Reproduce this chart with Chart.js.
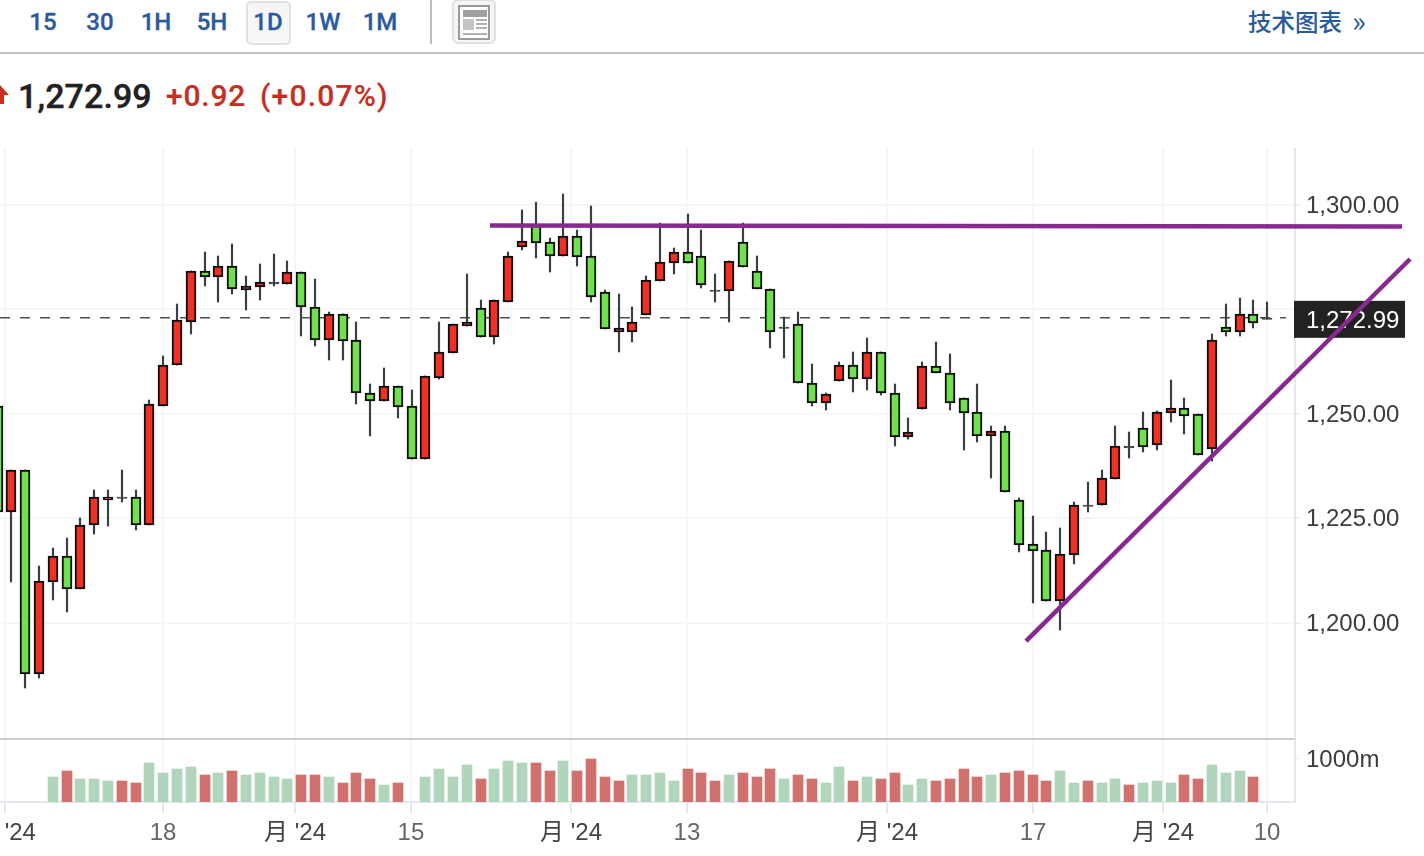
<!DOCTYPE html>
<html lang="zh">
<head>
<meta charset="utf-8">
<title>Candlestick</title>
<script src="https://cdn.jsdelivr.net/npm/chart.js@4/dist/chart.umd.min.js"></script>
<style>
html,body{margin:0;padding:0;background:#fff;width:1424px;height:856px;overflow:hidden;}
body{position:relative;font-family:"Roboto","Liberation Sans",sans-serif;}
.abs{position:absolute;white-space:nowrap;}
.tab{top:7px;height:30px;line-height:30px;font-size:24px;font-weight:500;color:#2a5a9e;transform:translateX(-50%);-webkit-text-stroke:.3px #2a5a9e;}
#chartBox{position:absolute;left:0;top:148px;width:1424px;height:708px;}
</style>
</head>
<body>
<div class="abs" style="left:246px;top:1px;width:41px;height:40px;background:#f6f6f6;border:2px solid #e0e0e0;border-radius:5px;"></div>
<div class="abs tab" style="left:43px">15</div>
<div class="abs tab" style="left:100px">30</div>
<div class="abs tab" style="left:156px">1H</div>
<div class="abs tab" style="left:212px">5H</div>
<div class="abs tab" style="left:268px">1D</div>
<div class="abs tab" style="left:323px">1W</div>
<div class="abs tab" style="left:380px">1M</div>
<div class="abs" style="left:430px;top:0;width:2px;height:44px;background:#bdbdbd;"></div>
<svg class="abs" style="left:452px;top:0" width="45" height="45">
  <rect x="1" y="0" width="42" height="43" rx="5" fill="#f6f6f6" stroke="#e0e0e0" stroke-width="2"/>
  <rect x="7" y="6" width="30" height="33" fill="#fff" stroke="#9a9a9a" stroke-width="2"/>
  <rect x="11" y="10" width="24" height="7" fill="#a0a0a0"/>
  <rect x="11" y="19" width="11" height="11" fill="#c4c4c4"/>
  <rect x="24" y="19" width="11" height="2" fill="#b0b0b0"/>
  <rect x="24" y="23" width="11" height="2" fill="#b0b0b0"/>
  <rect x="24" y="27" width="11" height="2" fill="#b0b0b0"/>
  <rect x="11" y="33" width="24" height="2" fill="#b0b0b0"/>
</svg>
<div class="abs" style="left:1248px;top:5px;height:32px;line-height:32px;font-family:'Noto Sans CJK SC';font-size:23.5px;font-weight:500;color:#2a5a9e;">技术图表</div>
<div class="abs" style="left:1352px;top:4px;height:32px;line-height:30px;font-family:'Noto Sans CJK SC';font-size:29px;color:#2a5a9e;">»</div>
<div class="abs" style="left:0;top:52px;width:1424px;height:2px;background:#c2c2c2;"></div>
<svg class="abs" style="left:0;top:84px" width="10" height="22"><polygon points="0,1 9,11 4,11 4,20 0,20" fill="#c93020"/></svg>
<div class="abs" style="left:18px;top:76px;height:40px;line-height:40px;font-size:34px;font-weight:500;color:#222;-webkit-text-stroke:.4px #222;letter-spacing:.1px;">1,272.99</div>
<div class="abs" style="left:166px;top:76px;height:40px;line-height:40px;font-size:30px;font-weight:500;color:#c4301f;letter-spacing:.8px;-webkit-text-stroke:.2px #c4301f;">+0.92</div>
<div class="abs" style="left:260px;top:76px;height:40px;line-height:40px;font-size:30px;font-weight:500;color:#c4301f;letter-spacing:1.2px;-webkit-text-stroke:.2px #c4301f;">(+0.07%)</div>
<div id="chartBox"><canvas id="chart" width="1424" height="708"></canvas></div>

<script>
// Candle values, oldest first
const opens = [1251.9,1226.6,1236.5,1187.8,1209.8,1215.9,1208,1223.3,1229.4,1229.9,1230.2,1223.3,1252,1261.6,1272.1,1284.3,1282.7,1285.3,1279.7,1280.3,1281.2,1281.2,1283.9,1275.7,1267.8,1273.8,1267.6,1255.1,1253,1256.6,1251.8,1239.2,1258.7,1264.5,1271.1,1275.3,1268.3,1276.9,1289.9,1295.1,1291.1,1287.9,1292.5,1287.7,1279.1,1269.6,1269.7,1273.6,1281.7,1286,1288.7,1287.7,1279.3,1279.3,1291.1,1284.3,1280,1270.6,1271.4,1257.5,1252.5,1257.8,1261.8,1258.3,1264.7,1255.1,1244.4,1251.1,1261.4,1259.9,1253.7,1250.4,1244.8,1246,1229.3,1218.8,1217.3,1205.1,1216.1,1228,1228.1,1234.3,1241.9,1246.5,1242.5,1250.1,1251.3,1249.9,1241.5,1270.9,1269.7,1273.8,1272.69];
const closes = [1226.6,1236.5,1187.8,1210.1,1215.9,1208,1223.5,1230.2,1230.2,1230.2,1223.3,1252.3,1261.8,1272.4,1284.3,1282.7,1285.3,1279.8,1280.6,1281.5,1281.5,1283.9,1275.5,1267.8,1273.8,1267.4,1254.9,1253,1256.6,1251.6,1239.1,1259,1264.7,1271.4,1271.9,1268.3,1277.2,1287.7,1291.5,1290.8,1287.9,1292.5,1287.5,1277.9,1270.2,1270.5,1271.9,1282,1286.3,1288.7,1286,1280.8,1279.6,1286.7,1285.1,1279.8,1269.7,1270.9,1257.3,1252.5,1254.7,1261.8,1258.3,1264.7,1254.9,1244.4,1245.6,1261.4,1259.7,1252.5,1250.1,1244.8,1246,1231.4,1218.5,1217.1,1205.1,1216.4,1228.3,1228.3,1234.6,1242.2,1242.2,1242,1250.4,1251.3,1249.6,1240.1,1267.6,1269.7,1273.8,1271.7,1272.99];
const highs = [1251.9,1236.5,1236.5,1213.5,1217.8,1220.2,1225,1231.8,1231.8,1236.5,1231.8,1253.3,1263.8,1276.3,1284.3,1288.7,1287.8,1290.7,1283,1285.9,1288.3,1286.7,1283.9,1282.4,1274.4,1273.8,1271.9,1257.1,1261,1256.6,1255.7,1259,1271.9,1271.4,1283.5,1277.2,1277.2,1288.7,1298.8,1300.7,1292,1302.6,1293.9,1299.8,1279.6,1278.7,1275.7,1283,1295.6,1289.6,1297.8,1294,1283.5,1286.7,1295.6,1287.8,1280,1273.3,1274.3,1261.9,1255.1,1262.3,1264.8,1268.1,1264.7,1257.1,1249,1262.4,1267.2,1264.3,1253.7,1257.1,1247.1,1247.1,1229.8,1225.5,1221.7,1222.7,1228.8,1233.7,1236.5,1247.1,1245.6,1250.4,1250.8,1258.1,1253.8,1249.9,1269.1,1276.3,1277.7,1277.2,1276.8];
const lows = [1226.6,1209.8,1184.4,1186.8,1205.5,1202.6,1208,1221.3,1223.2,1229,1222.3,1223.3,1252,1261.6,1269.2,1280.7,1276.8,1278.8,1274.9,1277.3,1280.7,1281.2,1268.7,1266.3,1263,1263,1252.4,1244.8,1253,1249.1,1239.1,1239.2,1258.3,1264.5,1271.1,1268.3,1266.8,1276.9,1289.3,1287.4,1284,1287.9,1285.5,1276.8,1270.2,1264.9,1267.3,1273.6,1281.7,1283.6,1286,1280.2,1276.8,1272.1,1285.1,1279.8,1265.8,1263.4,1257.3,1251.9,1251,1257.8,1255.3,1255.8,1254.4,1242.4,1243.9,1251.1,1259.7,1251,1241.4,1243.3,1234.7,1231.4,1217,1204.6,1205.1,1198.3,1214.1,1226.6,1228.1,1234.3,1239.5,1240.9,1241.4,1248.1,1245.2,1240.1,1238.6,1268.7,1268.7,1270.6,1272.6];

// Volume in millions, null where the reference shows no bar
const volumes = [null,null,null,null,581,721,535,535,488,488,442,907,674,767,814,628,674,721,628,674,581,535,628,628,581,442,674,535,395,442,null,581,767,581,860,535,767,953,907,907,721,953,721,1000,581,488,628,628,674,488,767,674,488,628,674,581,767,535,628,535,442,814,488,581,535,674,395,535,488,535,767,581,628,674,721,628,488,721,442,488,442,535,395,442,488,442,628,535,860,674,721,581,null];
const volumeUp = [0,0,0,0,0,1,0,0,0,1,1,0,0,0,0,1,0,1,0,0,0,0,1,1,0,1,1,1,0,1,0,0,0,0,0,1,0,0,0,1,1,0,1,1,1,1,0,0,0,0,1,1,1,0,1,1,1,0,1,1,0,0,1,0,1,1,0,0,1,1,1,1,0,1,1,1,1,0,0,1,0,0,1,0,0,0,1,1,0,0,0,1,0];

// Axis ticks
const priceTicks = [1200,1225,1250,1275,1300];
const volumeTicks = [1000];
const dateTicks = [0.54,12,21.56,29.96,41.56,49.96,64.46,75.04,84.46,92];
const dateLabels = ["月 '24","18","月 '24","15","月 '24","13","月 '24","17","月 '24","10"];

// Last price and hand-drawn trend lines, in data units (candle number, price)
const lastPrice = 1272.99;
const lastPriceSpan = [0.181,93.37];
const resistanceLine = [{x:35.69,y:1295.1},{x:101.78,y:1294.86}];
const supportLine = [{x:74.53,y:1195.6},{x:102.36,y:1287.07}];

const RED='#ee3124', GREEN='#6fe04e', INK='#0c0c0c', WICK='#3a3f44';
const FONT='"Liberation Sans","Noto Sans CJK SC",sans-serif';
const isDoji = i => Math.abs(closes[i]-opens[i]) < 0.35;
const fmtPrice = v => Number(v).toLocaleString('en-US',{minimumFractionDigits:2,maximumFractionDigits:2});

const snapPlugin = {
  id:'snap',
  afterDatasetsUpdate(chart){
    chart.data.datasets.forEach((ds,d)=>{
      if(ds.type!=='bar') return;
      chart.getDatasetMeta(d).data.forEach(el=>{
        el.x=Math.round(el.x);
        el.y=Math.round(el.y);
        el.base=Math.round(el.base);
        if(ds.label==='body' && Math.abs(el.base-el.y)<2) el.base=el.y+1.5;
      });
    });
  }
};
const overlayPlugin = {
  id:'overlay',
  beforeDraw(chart){
    [chart.scales.y,chart.scales.yVol].forEach(s=>{
      s.getLabelItems().forEach(item=>{item.options.translation[1]+=1.5;});
    });
  },
  beforeDatasetsDraw(chart){
    const c=chart.ctx, y=chart.scales.y, v=chart.scales.yVol, x=chart.scales.x;
    c.save();
    c.fillStyle='#cfcfcf';
    c.fillRect(x.left,v.top-2,x.right-x.left,2);
    const py=y.getPixelForValue(lastPrice);
    c.fillStyle='#222222';
    c.fillRect(x.right-1,py-17,111,37);
    c.fillStyle='#ffffff';
    c.font='24px '+FONT;
    c.textBaseline='middle';
    c.fillText(fmtPrice(lastPrice),x.right+11,py+4);
    c.restore();
  }
};

new Chart(document.getElementById('chart'),{
  data:{
    datasets:[
      {type:'line',label:'support',order:0,clip:false,data:supportLine,borderColor:'#87298f',borderWidth:4.5,pointRadius:0,yAxisID:'y',parsing:false,borderCapStyle:'butt'},
      {type:'line',label:'resistance',order:0,clip:false,data:resistanceLine,borderColor:'#87298f',borderWidth:4.5,pointRadius:0,yAxisID:'y',parsing:false,borderCapStyle:'butt'},
      {type:'bar',label:'body',order:1,grouped:false,yAxisID:'y',barThickness:10,
        data:opens.map((o,i)=>({x:i,y:[o,closes[i]]})),
        backgroundColor:opens.map((o,i)=>isDoji(i)?WICK:(closes[i]>o?RED:GREEN)),
        borderColor:opens.map((o,i)=>isDoji(i)?WICK:INK),
        borderWidth:2,borderSkipped:false},
      {type:'bar',label:'wick',order:2,grouped:false,yAxisID:'y',barThickness:1.5,
        data:lows.map((l,i)=>({x:i,y:[l,highs[i]]})),
        backgroundColor:WICK,borderWidth:0},
      {type:'line',label:'last',order:3,clip:false,yAxisID:'y',parsing:false,
        data:lastPriceSpan.map(x=>({x,y:lastPrice})),
        borderColor:'#505050',borderWidth:1.5,borderDash:[10,10],pointRadius:0},
      {type:'bar',label:'volume',order:4,grouped:false,yAxisID:'yVol',barThickness:10,
        data:volumes.map((v,i)=>({x:i,y:v})),
        backgroundColor:volumeUp.map(u=>u?'#d1716e':'#b1d5ba'),borderWidth:0}
    ]
  },
  options:{
    responsive:false,animation:false,events:[],
    layout:{padding:0},
    plugins:{legend:{display:false},tooltip:{enabled:false}},
    scales:{
      x:{type:'linear',position:'bottom',min:0.181,max:94.02,offset:false,
        grid:{offset:false,color:'#f6f6f8',lineWidth:2,tickColor:'#e4e7ed',tickLength:11},
        border:{color:'#e4e7ed',width:2},
        afterBuildTicks(s){s.ticks=dateTicks.map(value=>({value}));},
        afterFit(s){s.height=54;s.paddingLeft=0;s.paddingRight=0;},
        ticks:{autoSkip:false,maxRotation:0,padding:6,
          font:{family:FONT,size:24},
          color:c=>dateLabels[c.index]&&dateLabels[c.index].includes('月')?'#444':'#666',
          callback:(v,i)=>dateLabels[i]}
      },
      y:{type:'linear',position:'right',stack:'right',stackWeight:592,min:1171.92,max:1313.65,
        grid:{color:'#f6f6f8',lineWidth:2,tickColor:'#eef0f4',tickLength:6},
        border:{color:'#e4e7ed',width:2},
        afterBuildTicks(s){s.ticks=priceTicks.map(value=>({value}));},
        afterFit(s){s.width=129;s.paddingTop=0;s.paddingBottom=0;},
        ticks:{padding:5,font:{family:FONT,size:24},color:'#3c3c3c',callback:v=>fmtPrice(v)}
      },
      yVol:{type:'linear',position:'right',stack:'right',stackWeight:62,min:0,max:1432,
        grid:{drawOnChartArea:false,tickColor:'#eef0f4',tickLength:6},
        border:{color:'#e4e7ed',width:2},
        afterBuildTicks(s){s.ticks=volumeTicks.map(value=>({value}));},
        afterFit(s){s.width=129;s.paddingTop=0;s.paddingBottom=0;},
        ticks:{padding:5,font:{family:FONT,size:24},color:'#3c3c3c',callback:v=>v+'m'}
      }
    }
  },
  plugins:[snapPlugin,overlayPlugin]
});
</script>
</body>
</html>
